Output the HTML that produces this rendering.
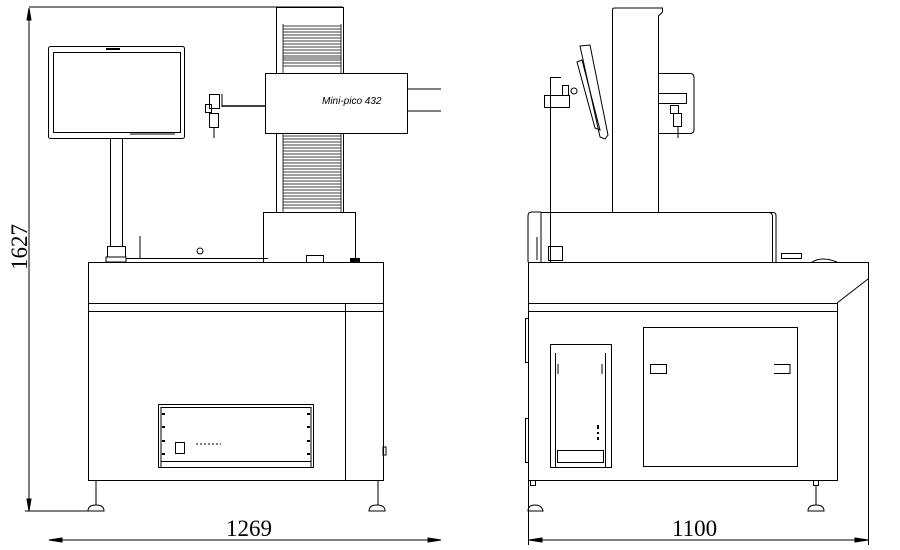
<!DOCTYPE html>
<html><head><style>body{margin:0;background:#fff}svg{display:block}</style></head><body>
<svg width="900" height="550" viewBox="0 0 900 550" xmlns="http://www.w3.org/2000/svg" fill="none" stroke="#000" stroke-width="1">
<!-- LEFT VIEW -->
<!-- vertical dimension -->
<line x1="29" y1="8" x2="29" y2="511"/>
<polygon points="29,8 27,20 31,20" fill="#000"/>
<polygon points="29,511 27,499 31,499" fill="#000"/>
<line x1="29" y1="7" x2="343" y2="7"/>
<line x1="25" y1="511" x2="103" y2="511"/>
<text x="0" y="0" transform="translate(27,270) rotate(-90)" font-family="Liberation Serif,serif" font-size="23" fill="#000" stroke="none">1627</text>
<!-- monitor -->
<rect x="48.5" y="46.5" width="136" height="92" rx="2"/>
<rect x="53.5" y="52.5" width="127" height="80"/>
<rect x="106" y="48" width="14" height="2" fill="#000" stroke="none"/>
<line x1="130" y1="134" x2="175" y2="134"/>
<!-- pole -->
<rect x="110.5" y="138.5" width="12" height="108"/>
<rect x="107.5" y="246.5" width="18" height="11"/>
<rect x="106" y="257" width="20" height="5" fill="#fff"/>
<!-- column -->
<rect x="276.5" y="7.5" width="67" height="205"/>
<g stroke-width="0.8">
<line x1="283" y1="24" x2="283" y2="212"/><line x1="341" y1="24" x2="341" y2="212"/>
<path d="M283 26H341M283 29H341M283 32H341M283 35H341M283 38H341M283 41H341M283 44H341M283 47H341M283 50H341M283 53H341M283 56H341M283 58H341M283 60H341M283 63H341M283 66H341"/>
<path d="M283 136H341M283 139H341M283 142H341M283 145H341M283 148H341M283 151H341M283 154H341M283 157H341M283 160H341M283 163H341M283 166H341M283 169H341M283 172H341M283 175H341M283 178H341M283 181H341M283 184H341M283 187H341M283 190H341M283 193H341M283 196H341M283 199H341M283 202H341M283 205H341M283 208H341"/>
</g>
<!-- head -->
<rect x="265.5" y="73.5" width="142" height="60" fill="#fff"/>
<text x="322" y="104" font-family="Liberation Sans,sans-serif" font-style="italic" font-size="10" fill="#000" stroke="none">Mini-pico 432</text>
<line x1="408" y1="89" x2="441" y2="89"/><line x1="408" y1="111" x2="441" y2="111"/>
<line x1="222" y1="106" x2="265" y2="106" stroke-width="1.5"/>
<!-- probe -->
<rect x="209.5" y="94.5" width="10" height="14"/>
<rect x="205.5" y="104.5" width="6" height="8"/>
<rect x="209.5" y="113.5" width="9" height="14"/>
<line x1="214" y1="128" x2="214" y2="138"/>
<line x1="222" y1="94" x2="222" y2="107"/>
<!-- column base -->
<rect x="263.5" y="212.5" width="92" height="50" fill="#fff"/>
<rect x="306.5" y="255.5" width="17" height="7"/>
<rect x="350" y="258" width="10" height="4" fill="#000" stroke="none"/>
<line x1="140" y1="236" x2="140" y2="258"/>
<line x1="126" y1="258.5" x2="268" y2="258.5"/>
<circle cx="200" cy="251" r="3"/>
<!-- table -->
<rect x="88.5" y="262.5" width="295" height="218"/>
<line x1="88" y1="303.5" x2="384" y2="303.5"/>
<line x1="88" y1="311.5" x2="384" y2="311.5"/>
<line x1="345.5" y1="303" x2="345.5" y2="480"/>
<rect x="383" y="447" width="3" height="8"/>
<!-- control box -->
<rect x="158.5" y="404.5" width="155" height="63"/>
<line x1="161" y1="407.5" x2="311" y2="407.5"/>
<line x1="161" y1="461.5" x2="311" y2="461.5"/>
<line x1="161" y1="407" x2="161" y2="467"/><line x1="311" y1="407" x2="311" y2="467"/>
<rect x="175.5" y="442.5" width="9" height="11"/>
<path d="M196 444h25" stroke-dasharray="2 2"/>
<g fill="#000" stroke="none"><rect x="162" y="413" width="3" height="2"/><rect x="162" y="426" width="3" height="2"/><rect x="162" y="440" width="3" height="2"/><rect x="162" y="453" width="3" height="2"/><rect x="307" y="413" width="3" height="2"/><rect x="307" y="426" width="3" height="2"/><rect x="307" y="440" width="3" height="2"/><rect x="307" y="453" width="3" height="2"/></g>
<!-- feet -->
<line x1="96" y1="481" x2="96" y2="505"/><line x1="378" y1="481" x2="378" y2="505"/>
<path d="M88 511q0-6 8-6t8 6z"/><path d="M369 511q0-6 8-6t8 6z"/>
<!-- horizontal dimension -->
<line x1="49" y1="540" x2="441" y2="540"/>
<polygon points="49,540 62,538 62,542" fill="#000"/>
<polygon points="441,540 428,538 428,542" fill="#000"/>
<text x="226" y="536" font-family="Liberation Serif,serif" font-size="23" fill="#000" stroke="none">1269</text>

<!-- RIGHT VIEW -->
<path d="M612.5 213V10q0-2 2-2h48v4l-4 4v197"/>
<!-- head side -->
<path d="M658 73.5h32q4 0 4 4v52q0 4-4 4h-32"/>
<rect x="658.5" y="93.5" width="28" height="10"/>
<rect x="670.5" y="105.5" width="8" height="8"/>
<rect x="673.5" y="113.5" width="8" height="13"/>
<line x1="678" y1="127" x2="678" y2="138"/>
<!-- monitor -->
<path d="M580 46L590 45L608 135L605 139L600 137Z"/>
<path d="M577 62L582 60L600 130L595 128Z"/>
<!-- arm -->
<line x1="550.5" y1="77" x2="550.5" y2="262"/>
<line x1="550" y1="77.5" x2="561" y2="77.5"/>
<rect x="544.5" y="95.5" width="25" height="12"/>
<rect x="562.5" y="85.5" width="6" height="10"/>
<circle cx="574" cy="91" r="3"/>
<!-- upper frame -->
<path d="M541 263V212.5h29M562 212.5h206.5q4 0 4 4V262"/>
<path d="M528 262V216q0-4 4-4h9M763 212.5h10q3 0 3 3V262"/>
<rect x="548.5" y="246.5" width="14" height="14"/>
<line x1="537" y1="237" x2="537" y2="260"/>
<rect x="781.5" y="253.5" width="20" height="5"/>
<path d="M812 262q10-6 25 0" />
<!-- base -->
<line x1="528.5" y1="262" x2="528.5" y2="545"/>
<line x1="528" y1="262.5" x2="868" y2="262.5"/>
<line x1="868.5" y1="262" x2="868.5" y2="545"/>
<line x1="528" y1="303.5" x2="838" y2="303.5"/>
<line x1="528" y1="311.5" x2="838" y2="311.5"/>
<line x1="837.5" y1="303" x2="837.5" y2="480"/>
<line x1="837" y1="303" x2="868" y2="279"/>
<line x1="528" y1="480.5" x2="838" y2="480.5"/>
<rect x="525.5" y="318.5" width="3" height="44"/>
<rect x="525.5" y="418.5" width="3" height="44"/>
<!-- printer -->
<rect x="550.5" y="344.5" width="61" height="123"/>
<path d="M555.5 467V353M605.5 467V353"/>
<line x1="558" y1="364" x2="558" y2="374"/><line x1="602" y1="364" x2="602" y2="374"/>
<rect x="557.5" y="450.5" width="46" height="12"/>
<rect x="597" y="425" width="2" height="4" fill="#000" stroke="none"/>
<rect x="597" y="432" width="2" height="2" fill="#000" stroke="none"/>
<rect x="597" y="437" width="2" height="3" fill="#000" stroke="none"/>
<!-- door -->
<rect x="643.5" y="327.5" width="154" height="139"/>
<rect x="650.5" y="364.5" width="16" height="9"/>
<path d="M774 364.5h16v9h-16"/>
<!-- feet -->
<rect x="530.5" y="480.5" width="5" height="5"/><rect x="813.5" y="480.5" width="5" height="5"/>
<line x1="816" y1="486" x2="816" y2="505"/>
<path d="M528 511q0-6 7-6t8 6z"/><path d="M808 511q0-6 8-6t8 6z"/>
<!-- dimension -->
<line x1="529" y1="540" x2="868" y2="540"/>
<polygon points="529,540 542,538 542,542" fill="#000"/>
<polygon points="868,540 855,538 855,542" fill="#000"/>
<text x="672" y="536" font-family="Liberation Serif,serif" font-size="23" fill="#000" stroke="none">1100</text>
</svg>
</body></html>
